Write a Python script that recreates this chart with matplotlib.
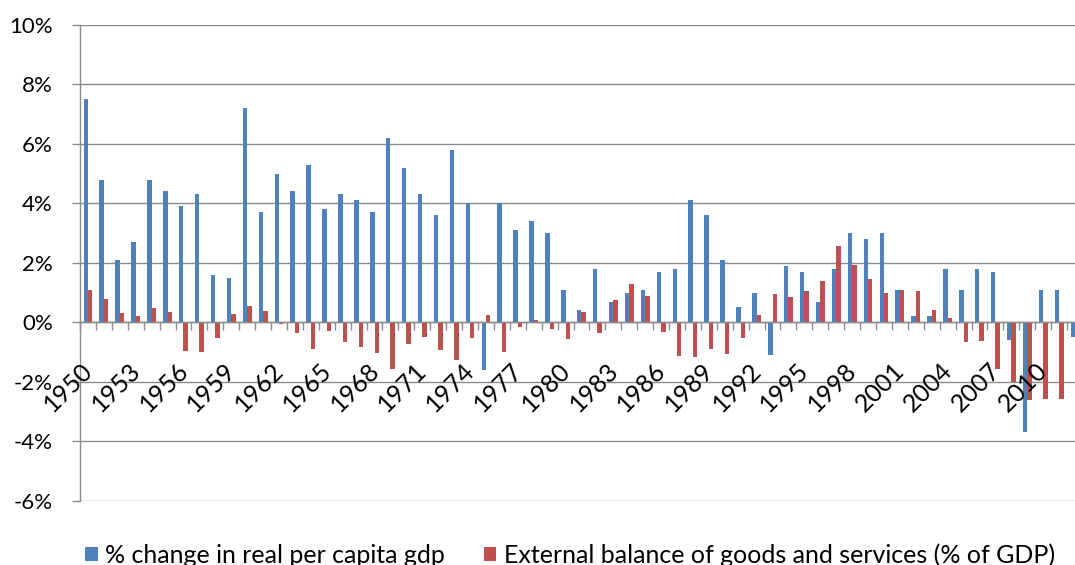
import numpy as np
import matplotlib
matplotlib.use("Agg")
import matplotlib.pyplot as plt
from matplotlib.ticker import FixedLocator
import matplotlib.transforms as mtransforms

plt.rcParams['font.family'] = ['Lato', 'DejaVu Sans']

years = list(range(1950, 2013))
gdp_change = [7.5, 4.8, 2.1, 2.7, 4.8, 4.4, 3.9, 4.3, 1.6, 1.5,
              7.2, 3.7, 5.0, 4.4, 5.3, 3.8, 4.3, 4.1, 3.7, 6.2,
              5.2, 4.3, 3.6, 5.8, 4.0, -1.6, 4.0, 3.1, 3.4, 3.0,
              1.1, 0.4, 1.8, 0.7, 1.0, 1.1, 1.7, 1.8, 4.1, 3.6,
              2.1, 0.5, 1.0, -1.1, 1.9, 1.7, 0.7, 1.8, 3.0, 2.8,
              3.0, 1.1, 0.2, 0.2, 1.8, 1.1, 1.8, 1.7, -0.6, -3.7,
              1.1, 1.1, -0.5]
ext_balance = [1.1, 0.8, 0.3, 0.2, 0.47, 0.35, -0.95, -1.0, -0.54, 0.28,
               0.54, 0.39, -0.07, -0.37, -0.91, -0.28, -0.65, -0.84, -1.02, -1.56,
               -0.74, -0.48, -0.93, -1.27, -0.54, 0.25, -0.99, -0.17, 0.08, -0.24,
               -0.57, 0.36, -0.37, 0.75, 1.29, 0.88, -0.34, -1.13, -1.16, -0.91,
               -1.08, -0.54, 0.23, 0.95, 0.84, 1.06, 1.38, 2.57, 1.92, 1.46,
               0.97, 1.09, 1.05, 0.41, 0.13, -0.65, -0.62, -1.58, -2.0, -2.6,
               -2.58, -2.58, np.nan]
y_ticks = [-6, -4, -2, 0, 2, 4, 6, 8, 10]
y_tick_labels = [f"{v}%" for v in y_ticks]
label_years = years[::3]
series_names = ["% change in real per capita gdp",
                "External balance of goods and services (% of GDP)"]

BLUE = '#4F81BD'
RED = '#C0504D'
GRAY = '#8c8c8c'

W, H = 1075, 565
fig = plt.figure(figsize=(W / 100, H / 100), dpi=100)
ax = fig.add_axes([80 / W, 1 - 500.7 / H, 995 / W, (500.7 - 25) / H])

x = np.arange(len(years))
bw = 0.28
b1 = ax.bar(x - bw / 2, gdp_change, bw, color=BLUE, label=series_names[0], zorder=2)
b2 = ax.bar(x + bw / 2, ext_balance, bw, color=RED, label=series_names[1], zorder=2)

ax.set_xlim(-0.5, 62.0)
ax.set_ylim(-6, 10)
ax.set_yticks(y_ticks)
ax.set_yticklabels(y_tick_labels)
ax.yaxis.grid(True, color=GRAY, lw=1.0)
ax.yaxis.set_zorder(0.5)
ax.xaxis.set_zorder(3)

for s in ['top', 'right']:
    ax.spines[s].set_visible(False)
ax.spines['left'].set_color(GRAY)
ax.spines['left'].set_linewidth(1.0)
ax.spines['bottom'].set_position(('data', 0))
ax.spines['bottom'].set_color(GRAY)
ax.spines['bottom'].set_linewidth(1.0)

ax.set_xticks([years.index(y) for y in label_years])
ax.set_xticklabels([str(y) for y in label_years])
ax.xaxis.set_minor_locator(FixedLocator(np.arange(-0.5, len(years), 1.0)))
ax.tick_params(axis='x', which='major', length=0, pad=26, labelsize=18,
               labelrotation=45)
ax.tick_params(axis='x', which='minor', length=6, color=GRAY, width=1.0,
               direction='out')
ax.tick_params(axis='y', which='major', length=6, color=GRAY, width=1.0,
               pad=13.7, labelsize=16)

offset = mtransforms.ScaledTranslation(9 / 100, 0, fig.dpi_scale_trans)
for lab in ax.get_xticklabels():
    lab.set_ha('right')
    lab.set_va('top')
    lab.set_transform(lab.get_transform() + offset)

fig.legend(handles=[b1, b2], loc='center left',
           bbox_to_anchor=(85 / W, 1 - 555 / H), ncol=2, frameon=False,
           fontsize=18, handlelength=0.5, handleheight=0.5,
           handletextpad=0.3, columnspacing=1.55, borderpad=0,
           borderaxespad=0)

fig.savefig('out.png', dpi=100)
